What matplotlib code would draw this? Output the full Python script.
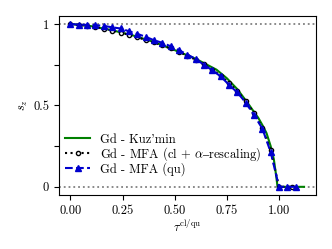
import numpy as np
import matplotlib
matplotlib.use('Agg')
import matplotlib.pyplot as plt

plt.rcParams['font.family'] = 'serif'
plt.rcParams['font.serif'] = ['cmr10', 'DejaVu Serif']
plt.rcParams['mathtext.fontset'] = 'cm'
plt.rcParams['axes.formatter.use_mathtext'] = True
plt.rcParams['font.size'] = 9

# Kuz'min curve
tau_kuz = [0.0, 0.1, 0.2, 0.3, 0.4, 0.5, 0.6, 0.7, 0.75, 0.8, 0.85, 0.88,
           0.9, 0.92, 0.94, 0.96, 0.975, 0.985, 0.993, 1.12]
s_kuz = [1.0, 0.987, 0.962, 0.93, 0.89, 0.84, 0.787, 0.72, 0.667, 0.60,
         0.515, 0.46, 0.425, 0.38, 0.33, 0.25, 0.17, 0.08, 0.0, 0.0]

# MFA classical + alpha rescaling
tau_cl = [0.0, 0.04, 0.08, 0.12, 0.16, 0.2, 0.24, 0.28, 0.32, 0.36, 0.4,
          0.44, 0.48, 0.52, 0.56, 0.6, 0.64, 0.68, 0.72, 0.76, 0.8, 0.84,
          0.88, 0.92, 0.96, 1.0, 1.06]
s_cl = [1.0, 0.995, 0.989, 0.981, 0.971, 0.96, 0.948, 0.934, 0.919, 0.903,
        0.887, 0.869, 0.85, 0.829, 0.806, 0.781, 0.752, 0.72, 0.683, 0.638,
        0.588, 0.527, 0.452, 0.362, 0.225, 0.0, 0.0]

# MFA quantum
tau_qu = [0.0, 0.04, 0.08, 0.12, 0.16, 0.2, 0.24, 0.28, 0.32, 0.36, 0.4,
          0.44, 0.48, 0.52, 0.56, 0.6, 0.64, 0.68, 0.72, 0.76, 0.8, 0.84,
          0.88, 0.92, 0.96, 1.0, 1.04, 1.08]
s_qu = [1.0, 0.997, 0.995, 0.993, 0.989, 0.98, 0.973, 0.956, 0.94, 0.922,
        0.901, 0.885, 0.864, 0.84, 0.813, 0.786, 0.75, 0.716, 0.679, 0.627,
        0.58, 0.518, 0.441, 0.358, 0.213, 0.0, 0.0, 0.0]

fig = plt.figure(figsize=(3.32, 2.49), dpi=100)
ax = fig.add_axes([0.177, 0.217, 0.774, 0.719])

ax.axhline(1, color='gray', ls=':', lw=1.3, zorder=0)
ax.axhline(0, color='gray', ls=':', lw=1.3, zorder=0)

ax.plot(tau_kuz, s_kuz, color='green', lw=1.5, label="Gd - Kuz'min")
ax.plot(tau_cl, s_cl, color='black', ls=':', lw=1.5, marker='o', ms=3,
        mfc='white', mec='black', mew=1.0,
        label='Gd - MFA (cl + $\\alpha$$\u2013$rescaling)')
ax.plot(tau_qu, s_qu, color='mediumblue', ls='--', lw=1.5, marker='^', ms=5,
        label='Gd - MFA (qu)')

ax.set_xticks([0.0, 0.25, 0.5, 0.75, 1.0])
ax.set_xticklabels(['0.00', '0.25', '0.50', '0.75', '1.00'])
ax.set_yticks([0, 0.25, 0.5, 0.75, 1])
ax.set_yticklabels(['0', '', '0.5', '', '1'])
ax.set_xlabel(r'$\tau^{\rm cl/qu}$', labelpad=1)
ax.set_ylabel(r'$s_z$', labelpad=2)

ax.legend(loc='lower left', frameon=False, bbox_to_anchor=(0.0, 0.07),
          handlelength=2.0, handletextpad=0.8, labelspacing=-0.04,
          borderaxespad=0.1)

fig.savefig('out.png', dpi=100)
